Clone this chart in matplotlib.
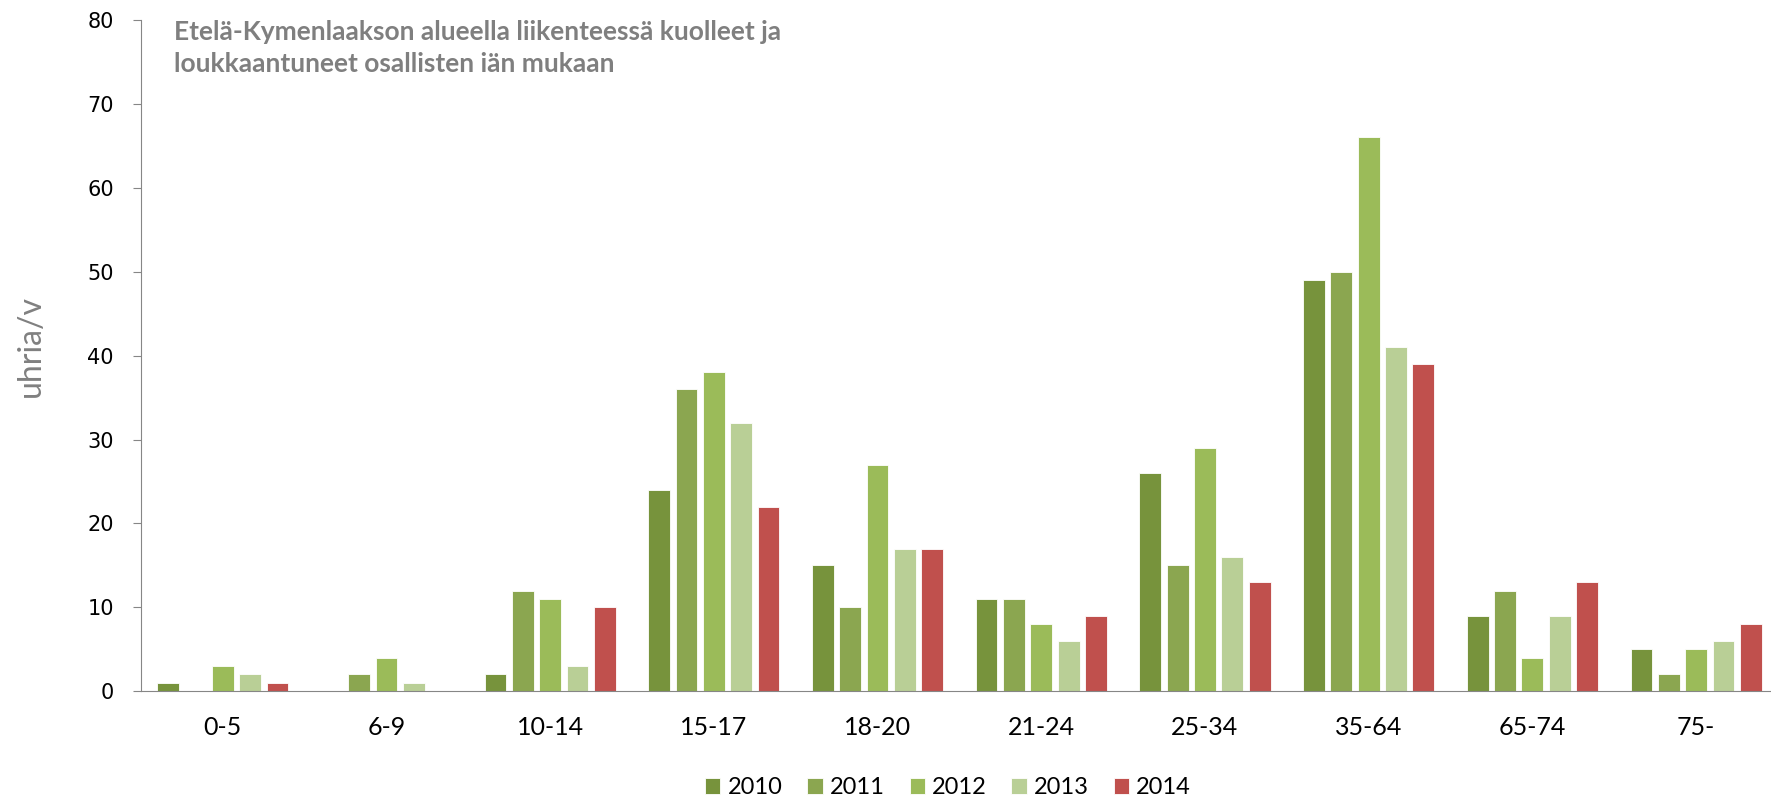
import matplotlib
matplotlib.use("Agg")
import matplotlib.pyplot as plt
import numpy as np

# Data
age_groups = ["0-5", "6-9", "10-14", "15-17", "18-20", "21-24", "25-34", "35-64", "65-74", "75-"]
years = ["2010", "2011", "2012", "2013", "2014"]
v2010 = [1, 0, 2, 24, 15, 11, 26, 49, 9, 5]
v2011 = [0, 2, 12, 36, 10, 11, 15, 50, 12, 2]
v2012 = [3, 4, 11, 38, 27, 8, 29, 66, 4, 5]
v2013 = [2, 1, 3, 32, 17, 6, 16, 41, 9, 6]
v2014 = [1, 0, 10, 22, 17, 9, 13, 39, 13, 8]
series = [v2010, v2011, v2012, v2013, v2014]
colors = ["#77933C", "#8BA650", "#9BBB59", "#B9CF96", "#C0504D"]

narrow = ["Liberation Sans Narrow", "Lato", "DejaVu Sans"]

fig = plt.figure(figsize=(17.71, 8), dpi=100)
# plot area runs slightly past the right edge, as in the original
ax = fig.add_axes([0.0796, 0.136, 0.9243, 0.839])

x = np.arange(len(age_groups))
step = 0.167
width = 0.133
for i, (vals, yr, c) in enumerate(zip(series, years, colors)):
    ax.bar(x + (i - 2) * step, vals, width, color=c, label=yr,
           edgecolor="white", linewidth=0.6)

ax.set_xlim(-0.5, len(age_groups) - 0.5)
ax.set_ylim(0, 80)
ax.set_yticks(range(0, 81, 10))
ax.set_xticks(x)
ax.set_xticklabels(age_groups, family=narrow, fontsize=18)
for lab in ax.get_yticklabels():
    lab.set_family("DejaVu Sans")
    lab.set_fontsize(15)

for s in ["top", "right"]:
    ax.spines[s].set_visible(False)
ax.spines["left"].set_color("#868686")
ax.spines["bottom"].set_color("#868686")
ax.tick_params(axis="y", direction="out", length=5.8, color="#868686", pad=13.7)
ax.tick_params(axis="x", length=0, pad=18)

ax.set_ylabel("uhria/v", family=narrow, fontsize=23, color="#808080")
ax.yaxis.set_label_coords(-0.058, 0.515)

fig.text(0.098, 0.975, "Etelä-Kymenlaakson alueella liikenteessä kuolleet ja\nloukkaantuneet osallisten iän mukaan",
         family=narrow, fontsize=19, fontweight="bold", color="#7F7F7F",
         va="top", ha="left", linespacing=1.4)

ax.legend(loc="center", bbox_to_anchor=(0.493, -0.144), ncol=5, frameon=False,
          prop={"family": narrow, "size": 17}, handlelength=0.64, handleheight=0.64,
          columnspacing=1.06, handletextpad=0.3)

fig.savefig("out.png", dpi=100)
